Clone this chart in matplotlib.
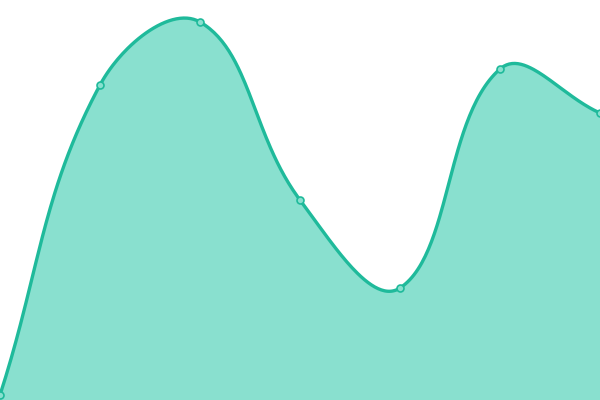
import numpy as np
import matplotlib
matplotlib.use("Agg")
import matplotlib.pyplot as plt

categories = ["A", "B", "C", "D", "E", "F", "G"]
values = [5, 315, 378, 200, 112, 331, 287]

line_color = "#1fba9b"
fill_color = "#89e0cf"

def smooth_curve(xs, ys, smooth=0.4, n=60):
    pts = np.column_stack([xs, ys]).astype(float)
    m = len(pts)
    cps = []
    for i in range(m):
        p = pts[i]
        prev = pts[i - 1] if i > 0 else p
        nxt = pts[i + 1] if i < m - 1 else p
        v = nxt - prev
        d0 = np.hypot(*(p - prev))
        d1 = np.hypot(*(nxt - p))
        tot = d0 + d1
        r = d1 / tot if tot > 0 else 0.5
        cin = p - v * smooth * (1 - r)
        cout = p + v * smooth * r
        cps.append((cin, cout))
    out = []
    t = np.linspace(0, 1, n)[:, None]
    for i in range(m - 1):
        p0 = pts[i]
        c1 = cps[i][1]
        c2 = cps[i + 1][0]
        p3 = pts[i + 1]
        seg = ((1 - t) ** 3) * p0 + 3 * ((1 - t) ** 2) * t * c1 + 3 * (1 - t) * t ** 2 * c2 + t ** 3 * p3
        out.append(seg if i == 0 else seg[1:])
    return np.vstack(out)

fig = plt.figure(figsize=(6, 4), dpi=100)
ax = fig.add_axes([0, 0, 1, 1])
xs = np.arange(len(categories)) * 100.0
curve = smooth_curve(xs, np.array(values, float))
ax.fill_between(curve[:, 0], curve[:, 1], 0, color=fill_color, lw=0)
ax.plot(curve[:, 0], curve[:, 1], color=line_color, lw=2.4, solid_capstyle="round")
ax.plot(xs, values, "o", ms=5, mfc=fill_color, mec=line_color, mew=1.2, clip_on=True)
ax.set_xlim(0, 600)
ax.set_ylim(0, 400)
ax.axis("off")
fig.savefig("out.png", dpi=100)
